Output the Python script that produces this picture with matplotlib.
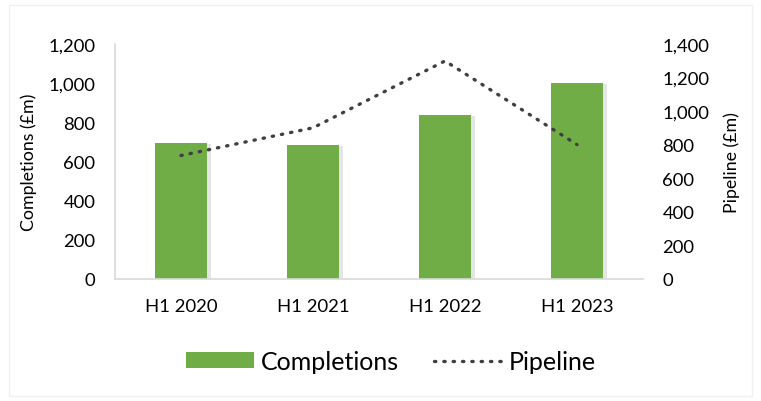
import numpy as np
import matplotlib.pyplot as plt
from matplotlib.patches import Rectangle

# ========================= DATA =========================
periods = ['H1 2020', 'H1 2021', 'H1 2022', 'H1 2023']
completions = [695, 686, 838, 1002]   # left axis (£m)
pipeline = [735, 900, 1298, 800]      # right axis (£m)

# ========================= PLOT =========================
plt.rcParams['font.family'] = ['Lato', 'DejaVu Sans']

fig = plt.figure(figsize=(7.61, 4.02), dpi=100)
fig.patches.append(Rectangle((0.012, 0.012), 0.976, 0.972, transform=fig.transFigure,
                             fill=False, edgecolor='#f0f0f0', linewidth=1))
ax = fig.add_axes([0.151, 0.3035, 0.694, 0.585])
ax2 = ax.twinx()

x = np.arange(len(periods))
# soft shadow behind bars
ax.bar(x + 0.03, np.array(completions) - 8, width=0.4, color='#000000', alpha=0.1, zorder=1)
ax.bar(x, completions, width=0.4, color='#70AD47', zorder=2, label='Completions')

ax2.plot(x, pipeline, color='#404040', linestyle=(0, (0.4, 2.4)), linewidth=2.4,
         dash_capstyle='round', label='Pipeline')

ax.set_xlim(-0.5, 3.5)
ax.set_ylim(0, 1200)
ax2.set_ylim(0, 1400)
ax.set_yticks(np.arange(0, 1201, 200))
ax2.set_yticks(np.arange(0, 1401, 200))
ax.yaxis.set_major_formatter(plt.FuncFormatter(lambda v, p: f'{v:,.0f}'))
ax2.yaxis.set_major_formatter(plt.FuncFormatter(lambda v, p: f'{v:,.0f}'))
ax.set_xticks(x)
ax.set_xticklabels(periods)

for a in (ax, ax2):
    for s in ('top', 'right'):
        a.spines[s].set_visible(False)
    a.tick_params(length=0, labelsize=13.3, colors='#000000')
ax2.spines['left'].set_visible(False)
ax2.spines['bottom'].set_visible(False)
ax.spines['left'].set_color('#d9d9d9')
ax.spines['bottom'].set_color('#d9d9d9')
ax.spines['left'].set_linewidth(1.2)
ax.spines['bottom'].set_linewidth(1.2)
ax.tick_params(axis='y', pad=14)
ax.tick_params(axis='x', pad=14)
ax2.tick_params(axis='y', pad=14)

ax.set_ylabel('Completions (£m)', fontsize=12.8, labelpad=8)
ax2.set_ylabel('Pipeline (£m)', fontsize=12.8, labelpad=10)

h1, l1 = ax.get_legend_handles_labels()
h2, l2 = ax2.get_legend_handles_labels()
fig.legend(h1 + h2, l1 + l2, loc='center', bbox_to_anchor=(0.514, 0.098), ncol=2,
           frameon=False, fontsize=18, handlelength=2.7, handleheight=0.6,
           columnspacing=1.4, handletextpad=0.3)

plt.savefig('out.png', dpi=100)
